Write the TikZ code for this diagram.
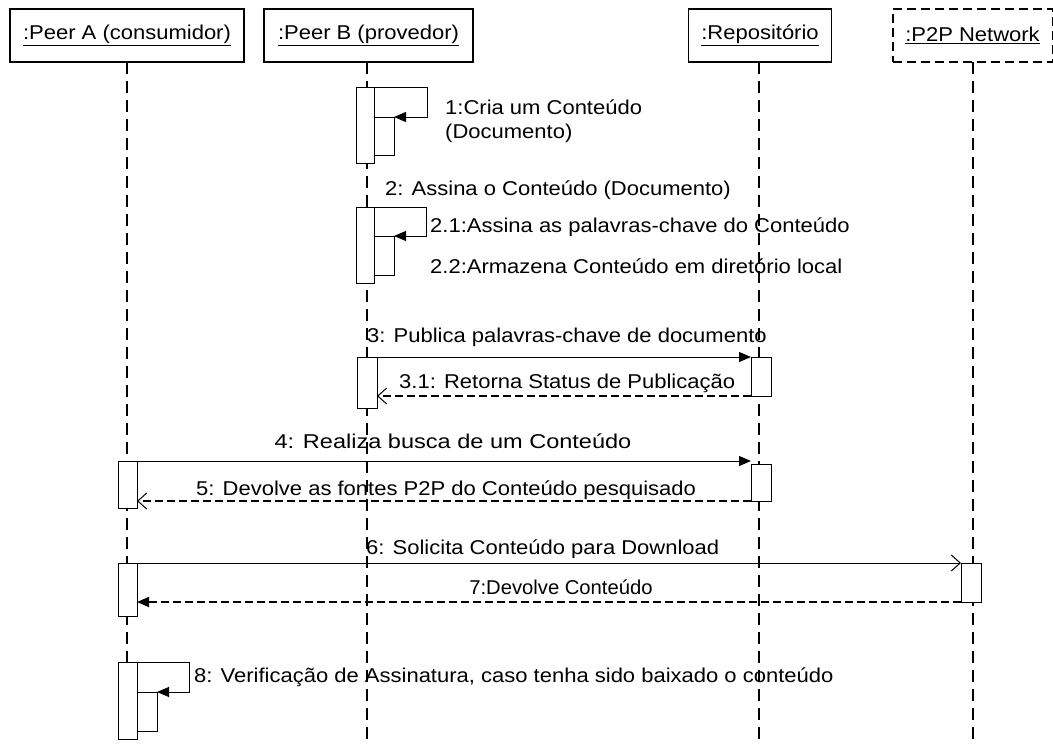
\documentclass[tikz,border=0pt]{standalone}
\usepackage{fontspec}
\setmainfont{Liberation Sans}[FakeStretch=1.1]
\usetikzlibrary{arrows.meta}
\begin{document}
\begin{tikzpicture}[x=1pt,y=-1pt,
  every node/.style={font=\fontsize{20}{24}\selectfont},
  obj/.style={draw,line width=1.2pt,fill=white,minimum height=53pt,inner sep=0pt,outer sep=0pt},
  life/.style={line width=2.4pt,dash pattern=on 12pt off 7pt},
  act/.style={draw,line width=1pt,fill=white,inner sep=0pt,outer sep=0pt,anchor=north west},
  call/.style={line width=1pt,-{Triangle[length=12pt,width=10pt]}},
  send/.style={line width=1pt,-{Straight Barb[length=9pt,width=16pt,line width=1pt]}},
  reply/.style={line width=1.4pt,dash pattern=on 8pt off 4pt,-{Straight Barb[length=9pt,width=16pt,line width=1pt]}},
  replyfilled/.style={line width=1.6pt,dash pattern=on 8pt off 4pt,-{Triangle[length=12pt,width=10pt]}},
  lbl/.style={anchor=base west,inner sep=0pt},
  clbl/.style={anchor=base,inner sep=0pt,transform shape}]

\useasboundingbox[fill=white] (0,0) rectangle (1053,744);
\coordinate (bottom) at (0,744);

% objects
\node[obj,line width=1.6pt,minimum width=234pt] (pa) at (127,35.5) {\underline{:Peer A (consumidor)}};
\node[obj,minimum width=209pt] (pb) at (368.5,35.5) {\underline{:Peer B (provedor)}};
\node[obj,minimum width=143pt] (rep) at (760,35.5) {\underline{:Repositório}};
\node[obj,line width=2pt,dash pattern=on 9pt off 5pt,minimum width=160pt] (net) at (972.5,35.5) {\underline{:P2P Network}};

% lifelines
\draw[life] (pa.south) -- (pa.south |- bottom);
\draw[life] (367,62) coordinate (pbl) -- (pbl |- bottom);
\draw[life] (759,62) coordinate (repl) -- (repl |- bottom);
\draw[life] (973,62) coordinate (netl) -- (netl |- bottom);

% activations of Peer B
\node[act,minimum width=18pt,minimum height=76pt] (b1) at (356,87) {};
\node[act,minimum width=20pt,minimum height=38pt] (b1i) at (374,117) {};
\node[act,minimum width=18pt,minimum height=76pt] (b2) at (356,207) {};
\node[act,minimum width=20pt,minimum height=39pt] (b2i) at (374,236) {};
\node[act,minimum width=20pt,minimum height=51pt] (b3) at (357,357) {};
\node[act,minimum width=20pt,minimum height=39pt] (r3) at (751,357) {};

% activations of Peer A, Repositorio and P2P Network
\node[act,minimum width=19pt,minimum height=47pt] (a4) at (118,461) {};
\node[act,minimum width=20pt,minimum height=37pt] (r4) at (751,464) {};
\node[act,minimum width=19pt,minimum height=53pt] (a6) at (118,563) {};
\node[act,minimum width=20pt,minimum height=39pt] (n6) at (961,563) {};
\node[act,minimum width=19pt,minimum height=77pt] (a8) at (118,662) {};
\node[act,minimum width=20pt,minimum height=39pt] (a8i) at (137,692) {};

% self calls
\draw[call] (b1.north east) -- ++(53,0) |- (b1i.north east);
\draw[call] (b2.north east) -- ++(52,0) |- (b2i.north east);
\draw[call] (a8.north east) -- ++(52,0) |- (a8i.north east);

% messages
\draw[call] (b3.north east) -- (r3.north west);
\draw[reply] (r3.south west) -- (b3.east |- r3.south west);
\draw[call] (a4.north east) -- (r4.west |- a4.north east);
\draw[reply] (r4.south west) -- (a4.east |- r4.south west);
\draw[send] (a6.north east) -- (n6.north west);
\draw[replyfilled] (n6.south west) -- (a6.east |- n6.south west);

% labels
\node[lbl] (t1) at (445,114) {1:Cria um Conteúdo};
\node[lbl] (t1b) at (445,138) {(Documento)};
\node[lbl] (t2) at (385,195) {2: Assina o Conteúdo (Documento)};
\node[lbl] (t21) at (430,232) {2.1:Assina as palavras-chave do Conteúdo};
\node[lbl] (t22) at (430,273) {2.2:Armazena Conteúdo em diretório local};
\node[lbl] (t3) at (367,342) {3: Publica palavras-chave de documento};
\node[lbl] (t31) at (399,388) {3.1: Retorna Status de Publicação};
\begin{scope}[xscale=1.07]
\node[clbl] (t4) at (453/1.07,448) {4: Realiza busca de um Conteúdo};
\end{scope}
\node[lbl] (t5) at (196,495) {5: Devolve as fontes P2P do Conteúdo pesquisado};
\node[lbl] (t6) at (366,554) {6: Solicita Conteúdo para Download};
\begin{scope}[xscale=0.92]
\node[clbl] (t7) at (561/0.92,594) {7:Devolve Conteúdo};
\end{scope}
\node[lbl] (t8) at (194,682) {8: Verificação de Assinatura, caso tenha sido baixado o conteúdo};
\end{tikzpicture}
\end{document}
